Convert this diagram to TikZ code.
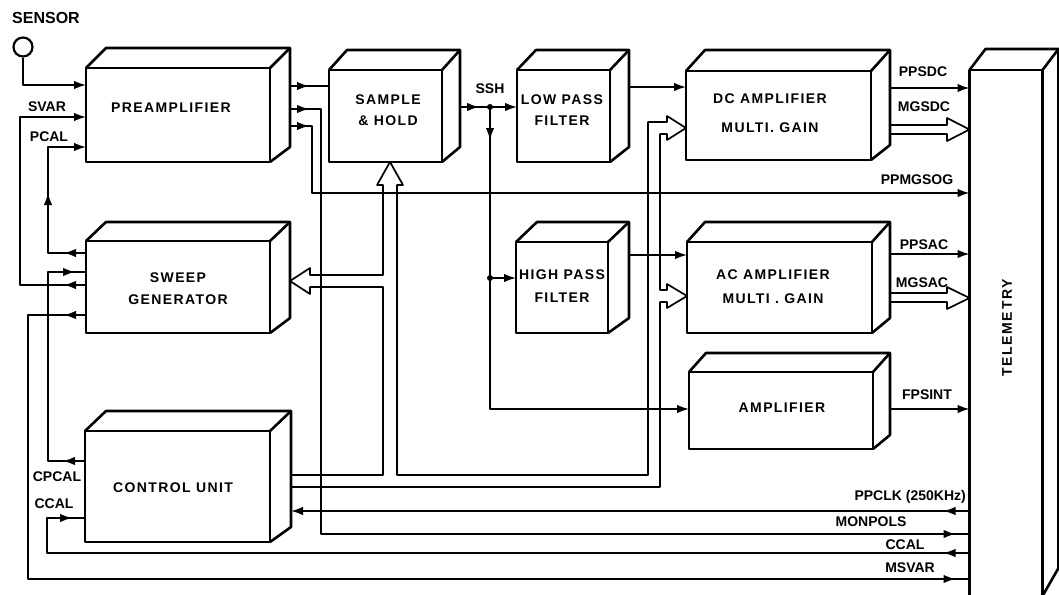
\documentclass[tikz,border=0pt]{standalone}
\usepackage{fontspec}
\setmainfont{Liberation Sans}
\newfontfamily\boxfont[LetterSpace=10]{Liberation Sans}
\newfontfamily\telfont[LetterSpace=12]{Liberation Sans}
\usetikzlibrary{arrows.meta,calc,decorations.markings}

% oblique top and side faces behind a front-face node
\newcommand\cubify[4]{%
  \draw[boxline] (#1.north west) -- ++(#2,-#3) -- ($(#1.north east)+(#2,-#3)$)
    -- ($(#1.south east)+(#2,-#4)$) -- (#1.south east);
  \draw[boxline] (#1.north east) -- ++(#2,-#3);}

\tikzset{
  headtip/.tip={Latex[length=12pt,width=8.5pt]},
  to/.style={-headtip},
  boxline/.style={line width=2.6pt, line join=round},
  block/.style={draw, boxline, inner sep=0pt, outer sep=0pt},
  boxtext/.style={inner sep=0pt, align=center, font=\boxfont\bfseries\fontsize{14}{17}\selectfont},
  lbl/.style={inner sep=0pt, font=\bfseries\fontsize{14}{17}\selectfont},
  wire/.style={line width=1.7pt, line join=round},
  arrowat/.style={postaction={decorate, decoration={markings,
      mark=at position #1 with {\arrow{headtip}}}}},
}

\begin{document}
\begin{tikzpicture}[x=1pt, y=-1pt]
\useasboundingbox (0,0) rectangle (1059,594);
\clip (0,0) rectangle (1059,594);

% ---- blocks (front faces) ----
\node[block, minimum width=184pt, minimum height=94pt] (pre)   at (178,115)   {};
\node[block, minimum width=113pt, minimum height=92pt] (sh)    at (385.5,116) {};
\node[block, minimum width=93pt,  minimum height=92pt] (lpf)   at (563.5,116) {};
\node[block, minimum width=185pt, minimum height=89pt] (dc)    at (778.5,115.5) {};
\node[block, minimum width=184pt, minimum height=92pt] (sweep) at (178,287)   {};
\node[block, minimum width=92pt,  minimum height=91pt] (hpf)   at (562,287.5) {};
\node[block, minimum width=185pt, minimum height=91pt] (ac)    at (779.5,287.5) {};
\node[block, minimum width=184pt, minimum height=77pt] (amp)   at (781,410.5) {};
\node[block, minimum width=185pt, minimum height=111pt] (ctrl) at (177.5,486.5) {};
\node[block, minimum width=73pt,  minimum height=526pt] (tel)   at (1006,333)  {};

\cubify{pre}{20}{20}{15}
\cubify{sh}{18}{20}{15}
\cubify{lpf}{19}{20}{15}
\cubify{dc}{19}{21}{15}
\cubify{sweep}{20}{19}{15}
\cubify{hpf}{21}{20}{15}
\cubify{ac}{18}{20}{15}
\cubify{amp}{17}{19}{14}
\cubify{ctrl}{21}{20}{15}
\cubify{tel}{16}{21}{28}

% back edges of the side faces, where the right-hand wires leave
\coordinate (preR)   at ($(pre.east)+(20,0)$);
\coordinate (shR)    at ($(sh.east)+(18,0)$);
\coordinate (lpfR)   at ($(lpf.east)+(19,0)$);
\coordinate (dcR)    at ($(dc.east)+(19,0)$);
\coordinate (sweepR) at ($(sweep.east)+(20,0)$);
\coordinate (hpfR)   at ($(hpf.east)+(21,0)$);
\coordinate (acR)    at ($(ac.east)+(18,0)$);
\coordinate (ampR)   at ($(amp.east)+(17,0)$);
\coordinate (ctrlR)  at ($(ctrl.east)+(21,0)$);

% ---- block texts ----
\node[boxtext] (preT)   at (171,108)  {PREAMPLIFIER};
\node[boxtext] (shT)    at (388,110)  {SAMPLE\\[4pt]\& HOLD};
\node[boxtext] (lpfT)   at (562,110)  {LOW PASS\\[4pt]FILTER};
\node[boxtext] (dcT)    at (770,113)  {DC AMPLIFIER\\[12pt]MULTI. GAIN};
\node[boxtext] (sweepT) at (178,288.5){SWEEP\\[5pt]GENERATOR};
\node[boxtext] (hpfT)   at (562,286)  {HIGH PASS\\[6pt]FILTER};
\node[boxtext] (acT)    at (773,286.5){AC AMPLIFIER\\[7pt]MULTI . GAIN};
\node[boxtext] (ampT)   at (782,408)  {AMPLIFIER};
\node[boxtext] (ctrlT)  at (173,488)  {CONTROL UNIT};
\node[inner sep=0pt, rotate=90, font=\telfont\bfseries\fontsize{14}{17}\selectfont] (telT) at (1007,328) {TELEMETRY};

% ---- sensor ----
\node[circle, draw, line width=2.2pt, minimum size=19pt, inner sep=0pt] (sensor) at (23,47) {};
\node[lbl, font=\bfseries\fontsize{16}{18}\selectfont] (sensorT) at (46,18) {SENSOR};
\draw[wire, to] (sensor.south) |- (pre.west |- 0,85);

% ---- signal labels ----
\node[lbl] (svarT)   at (47,107)  {SVAR};
\node[lbl] (pcalT)   at (49,137)  {PCAL};
\node[lbl] (cpcalT)  at (57,477)  {CPCAL};
\node[lbl] (ccalT)   at (54,504)  {CCAL};
\node[lbl] (sshT)    at (490,89)  {SSH};
\node[lbl] (ppsdcT)  at (923,72)  {PPSDC};
\node[lbl] (mgsdcT)  at (924,107) {MGSDC};
\node[lbl] (ppmgT)   at (917,180) {PPMGSOG};
\node[lbl] (ppsacT)  at (924,245) {PPSAC};
\node[lbl] (mgsacT)  at (922,283) {MGSAC};
\node[lbl] (fpsintT) at (927,395) {FPSINT};
\node[lbl, anchor=east] (ppclkT) at (966,497) {PPCLK (250KHz)};
\node[lbl] (monT)    at (871,522) {MONPOLS};
\node[lbl] (ccal2T)  at (905,545) {CCAL};
\node[lbl] (msvarT)  at (910,568) {MSVAR};

% ---- preamplifier connections ----
\draw[wire, to, arrowat=22pt] (sweep.west |- 0,285) -- (20,285) -- (20,117) -- (pre.west |- 0,117);
\draw[wire, to, arrowat=22pt, arrowat=98pt] (sweep.west |- 0,253) -- (48,253) -- (48,147) -- (pre.west |- 0,147);
\draw[wire, arrowat=19pt] (preR |- 0,86) -- (sh.west |- 0,86);
\draw[wire, arrowat=19pt, arrowat=-14pt] (preR |- 0,109) -- (321,109) -- (321,534) -- (tel.west |- 0,534);
\draw[wire, to, arrowat=19pt] (preR |- 0,126) -- (312,126) -- (312,193) -- (tel.west |- 0,193);

% ---- sweep generator / control unit ----
\draw[wire, arrowat=22pt, arrowat=-11pt] (ctrl.west |- 0,461) -- (48,461) -- (48,272) -- (sweep.west |- 0,272);
\draw[wire, arrowat=22pt, arrowat=-14pt] (sweep.west |- 0,315) -- (28,315) -- (28,579) -- (tel.west |- 0,579);
\draw[wire, arrowat=26pt, arrowat=-13pt] (tel.west |- 0,553) -- (47,553) -- (47,518) -- (ctrl.west |- 0,518);
\draw[wire, to, arrowat=26pt] (tel.west |- 0,511) -- (ctrlR |- 0,511);

% ---- SSH distribution ----
\coordinate (ssh) at (490,107);
\coordinate (hpj) at (490,278);
\draw[wire, arrowat=19pt] (shR |- ssh) -- (ssh);
\draw[wire, to] (ssh) -- (lpf.west |- ssh);
\draw[wire, arrowat=33pt] (ssh) -- (hpj);
\draw[wire, to] (hpj) -- (hpf.west |- hpj);
\draw[wire, to] (hpj) |- (amp.west |- 0,409);
\fill (ssh) circle (3pt);
\fill (hpj) circle (3pt);

% ---- filters to amplifiers ----
\draw[wire, to] (lpfR |- 0,87) -- (dc.west |- 0,87);
\draw[wire, to] (hpfR |- 0,255) -- (ac.west |- 0,255);

% ---- amplifiers to telemetry ----
\draw[wire, to] (dcR |- 0,88) -- (tel.west |- 0,88);
\draw[wire, to] (acR |- 0,254) -- (tel.west |- 0,254);
\draw[wire, to] (ampR |- 0,409) -- (tel.west |- 0,409);
\draw[wire] (dcR |- 0,125) -- (947,125) -- (947,118) -- (tel.west |- 0,129.5)
  -- (947,141) -- (947,134) -- (dcR |- 0,134);
\draw[wire] (acR |- 0,293) -- (947,293) -- (947,287) -- (tel.west |- 0,298)
  -- (947,309) -- (947,302) -- (acR |- 0,302);

% ---- control bus (double line) ----
\draw[wire] (ctrlR |- 0,487) -- (660,487) -- (660,302) -- (667,302) -- (667,308)
  -- (ac.west |- 0,296) -- (667,284) -- (667,290) -- (660,290) -- (660,134)
  -- (667,134) -- (667,140) -- (dc.west |- 0,128) -- (667,116) -- (667,122)
  -- (648,122) -- (648,475) -- (397,475) -- (397,185) -- (403,185)
  -- (390,0 |- sh.south) -- (377,185) -- (383,185) -- (383,275) -- (310,275)
  -- (310,268) -- (sweepR |- 0,281) -- (310,294) -- (310,287) -- (383,287)
  -- (383,475) -- (ctrlR |- 0,475);
\end{tikzpicture}
\end{document}
